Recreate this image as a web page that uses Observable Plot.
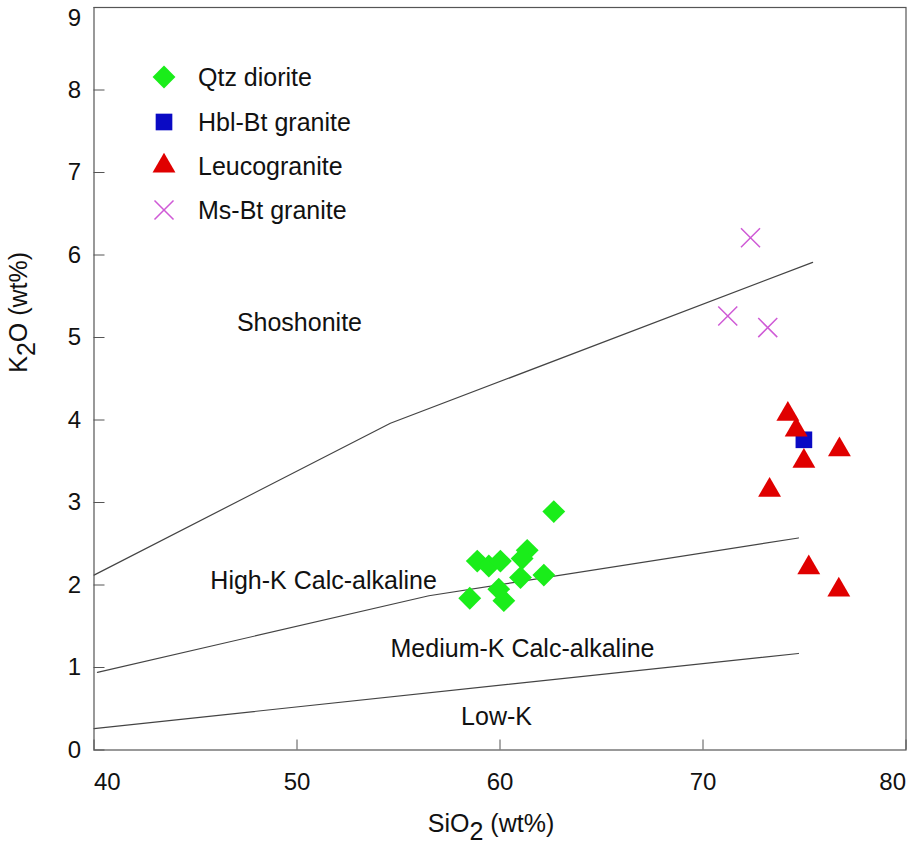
<!DOCTYPE html>
<html><head><meta charset="utf-8">
<script src="https://cdn.jsdelivr.net/npm/d3@7"></script>
<script src="https://cdn.jsdelivr.net/npm/@observablehq/plot@0.6"></script>
<style>
body{margin:0;background:#fff;font-family:"Liberation Sans",Arial,sans-serif;}
#wrap{position:relative;width:911px;height:844px;overflow:hidden;}
.lrow{position:absolute;height:30px;display:flex;align-items:center;font-size:25px;color:#111;white-space:nowrap;}
.lrow svg{position:absolute;left:0;top:0;}
.lrow span{position:absolute;left:49px;}
</style></head><body><div id="wrap"></div><script>
// ---- data ----
const seriesNames = ["Qtz diorite", "Hbl-Bt granite", "Leucogranite", "Ms-Bt granite"];
const qtzSiO2 = [62.65, 58.88, 59.45, 60.02, 61.34, 61.09, 61.01, 62.16, 59.94, 60.19, 58.51];
const qtzK2O  = [2.89, 2.29, 2.23, 2.29, 2.42, 2.32, 2.09, 2.12, 1.95, 1.81, 1.84];
const hblSiO2 = [74.97];
const hblK2O  = [3.76];
const leuSiO2 = [74.18, 74.59, 74.97, 76.72, 73.28, 75.21, 76.69];
const leuK2O  = [4.07, 3.88, 3.50, 3.64, 3.15, 2.21, 1.94];
const msSiO2  = [72.34, 71.22, 73.19];
const msK2O   = [6.21, 5.26, 5.12];

// boundary lines
const shoSiO2 = [40, 54.6, 75.4];
const shoK2O  = [2.12, 3.96, 5.91];
const hkSiO2  = [40.17, 56.5, 74.7];
const hkK2O   = [0.94, 1.87, 2.57];
const lkSiO2  = [40, 74.7];
const lkK2O   = [0.26, 1.17];

// field labels
const fieldNames = ["Shoshonite", "High-K Calc-alkaline", "Medium-K Calc-alkaline", "Low-K"];
const fieldSiO2  = [50.12, 51.31, 61.11, 59.83];
const fieldK2O   = [5.17, 2.05, 1.22, 0.40];

const xTicks = [40, 50, 60, 70, 80];
const yTicks = [0, 1, 2, 3, 4, 5, 6, 7, 8, 9];
const xTitle = "SiO2 (wt%)";
const yTitle = "K2O (wt%)";

// ---- styles ----
const colors = ["#1aed1a", "#0a0ac4", "#e00000", "#cf5ad6"];
const symbols = ["diamond2", "square", "triangle", "times"];
const radii = [10.3, 9.4, 8.5, 8.7];

const zip = (xs, ys) => xs.map((x, i) => ({x, y: ys[i]}));
const qtz = zip(qtzSiO2, qtzK2O), hbl = zip(hblSiO2, hblK2O), leu = zip(leuSiO2, leuK2O), ms = zip(msSiO2, msK2O);
const fields = fieldNames.map((t, i) => ({t, x: fieldSiO2[i], y: fieldK2O[i]}));

const mL = 93.5, mR = 5.5, mT = 7, mB = 94.5, W = 911, H = 844;
const fw = W - mL - mR, fh = H - mT - mB;
const font = "Liberation Sans, Arial, sans-serif";
const fmt = d3.format("d");
const xFirst = xTicks.slice(0, 1), xMid = xTicks.slice(1, -1), xLast = xTicks.slice(-1);
const yRest = yTicks.slice(0, -1), yLast = yTicks.slice(-1);
const axX = {tickSize: 0, tickPadding: 23, fontSize: 24, fill: "#111", label: null, tickFormat: fmt};
const axY = {tickSize: 0, tickPadding: 13, fontSize: 24, fill: "#111", label: null, tickFormat: fmt};

const plot = Plot.plot({
  width: W, height: H,
  marginLeft: mL, marginRight: mR, marginTop: mT, marginBottom: mB,
  style: {fontFamily: font, fontSize: "24px", color: "#111", background: "#fff", overflow: "visible"},
  x: {domain: [40, 80], label: null},
  y: {domain: [0, 9], label: null},
  marks: [
    Plot.line(zip(shoSiO2, shoK2O), {x: "x", y: "y", stroke: "#444", strokeWidth: 1.2}),
    Plot.line(zip(hkSiO2, hkK2O), {x: "x", y: "y", stroke: "#444", strokeWidth: 1.2}),
    Plot.line(zip(lkSiO2, lkK2O), {x: "x", y: "y", stroke: "#444", strokeWidth: 1.2}),
    Plot.tickX(xTicks, {x: d => d, stroke: "#555", insetTop: fh - 10}),
    Plot.tickY(yTicks, {y: d => d, stroke: "#555", insetRight: fw - 11}),
    Plot.frame({stroke: "#555", strokeWidth: 1.2}),
    Plot.axisX(xFirst, {...axX, textAnchor: "start"}),
    Plot.axisX(xMid, {...axX}),
    Plot.axisX(xLast, {...axX, textAnchor: "end"}),
    Plot.axisY(yRest, {...axY}),
    Plot.axisY(yLast, {...axY, lineAnchor: "top", dy: 1}),
    Plot.text(fields, {x: "x", y: "y", text: "t", fontSize: 25, fill: "#111"}),
    Plot.text([xTitle], {frameAnchor: "bottom", dx: -9, dy: 82, lineAnchor: "bottom", fontSize: 25, fill: "#111"}),
    Plot.text([yTitle], {frameAnchor: "left", rotate: -90, dx: -75, dy: -6, fontSize: 25, fill: "#111"}),
    Plot.dot(qtz, {x: "x", y: "y", symbol: symbols[0], r: radii[0], fill: colors[0], stroke: "none"}),
    Plot.dot(hbl, {x: "x", y: "y", symbol: symbols[1], r: radii[1], fill: colors[1], stroke: "none"}),
    Plot.dot(leu, {x: "x", y: "y", symbol: symbols[2], r: radii[2], fill: colors[2], stroke: "none"}),
    Plot.dot(ms, {x: "x", y: "y", symbol: symbols[3], r: radii[3], fill: "none", stroke: colors[3], strokeWidth: 1.5})
  ]
});

// subscripts in axis titles
d3.select(plot).selectAll("text").each(function() {
  const t = this.textContent;
  if (t === xTitle || t === yTitle) {
    const el = d3.select(this);
    const a = t === xTitle ? "SiO" : "K";
    const b = t === xTitle ? " (wt%)" : "O (wt%)";
    el.text(null);
    el.append("tspan").text(a);
    el.append("tspan").attr("dy", "0.32em").text("2");
    el.append("tspan").attr("dy", "-0.32em").text(b);
  }
});

const wrap = document.getElementById("wrap");
wrap.appendChild(plot);

// legend (inside plot area, top-left)
const rowCenters = [77, 122, 166, 210];
const d3sym = {diamond2: d3.symbolDiamond2, square: d3.symbolSquare, triangle: d3.symbolTriangle, times: d3.symbolTimes};
seriesNames.forEach((name, i) => {
  const row = document.createElement("div");
  row.className = "lrow";
  row.style.left = "149px";
  row.style.top = (rowCenters[i] - 15) + "px";
  const svg = d3.create("svg").attr("width", 30).attr("height", 30);
  const p = d3.symbol(d3sym[symbols[i]], Math.PI * radii[i] * radii[i])();
  const path = svg.append("path").attr("d", p).attr("transform", "translate(15,15)");
  if (symbols[i] === "times") path.attr("fill", "none").attr("stroke", colors[i]).attr("stroke-width", 1.5);
  else path.attr("fill", colors[i]);
  row.appendChild(svg.node());
  const span = document.createElement("span");
  span.textContent = name;
  row.appendChild(span);
  wrap.appendChild(row);
});
</script></body></html>
